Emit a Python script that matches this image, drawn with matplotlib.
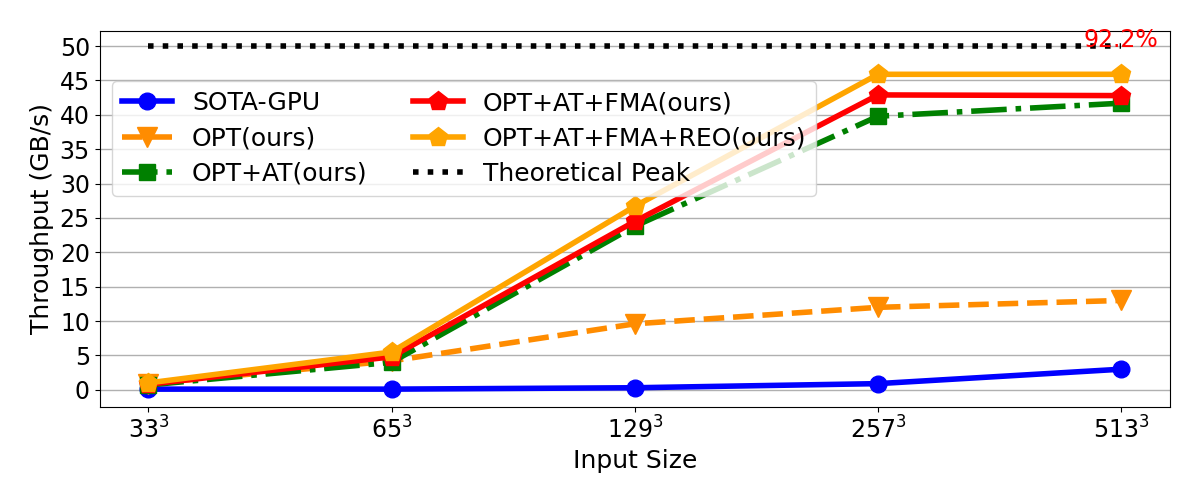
import matplotlib
matplotlib.use("Agg")
import matplotlib.pyplot as plt

sizes = [r"$33^3$", r"$65^3$", r"$129^3$", r"$257^3$", r"$513^3$"]
sota_gpu = [0.1, 0.1, 0.3, 0.9, 3.0]
opt = [0.9, 4.2, 9.6, 12.0, 13.0]
opt_at = [0.7, 4.0, 23.8, 39.8, 41.7]
opt_at_fma = [0.8, 4.8, 24.5, 42.9, 42.8]
opt_at_fma_reo = [1.0, 5.5, 26.7, 45.9, 45.9]
peak = [50, 50, 50, 50, 50]
annot = "92.2%"

fig, ax = plt.subplots(figsize=(12, 5), dpi=100)
x = list(range(len(sizes)))
lw = 4
ms = 12
ax.plot(x, sota_gpu, color="blue", marker="o", lw=lw, ms=ms, label="SOTA-GPU")
ax.plot(x, opt, color="darkorange", marker="v", ls="--", lw=lw, ms=ms + 2, label="OPT(ours)")
ax.plot(x, opt_at, color="green", marker="s", ls="-.", lw=lw, ms=ms, label="OPT+AT(ours)")
ax.plot(x, opt_at_fma, color="red", marker="p", lw=lw, ms=ms + 2, label="OPT+AT+FMA(ours)")
ax.plot(x, opt_at_fma_reo, color="orange", marker="p", lw=lw, ms=ms + 2, label="OPT+AT+FMA+REO(ours)")
ax.plot(x, peak, color="black", ls=":", lw=lw, label="Theoretical Peak")
ax.text(x[-1], peak[-1] - 0.9, annot, color="red", fontsize=17, ha="center", va="bottom")

ax.set_xticks(x)
ax.set_xticklabels(sizes)
ax.set_xlim(-0.2, 4.2)
ax.set_ylim(-2.5, 52.2)
ax.set_yticks(range(0, 51, 5))
ax.tick_params(labelsize=17)
ax.yaxis.grid(True, color="#b0b0b0", lw=1)
ax.set_axisbelow(True)
ax.set_xlabel("Input Size", fontsize=18)
ax.set_ylabel("Throughput (GB/s)", fontsize=18)
ax.legend(ncol=2, fontsize=18, loc="upper left", bbox_to_anchor=(0.0, 0.9),
          handlelength=2.0, columnspacing=1.8, borderaxespad=0.5, labelspacing=0.45)

fig.subplots_adjust(left=0.083, right=0.975, top=0.938, bottom=0.186)
fig.savefig("out.png", dpi=100)
